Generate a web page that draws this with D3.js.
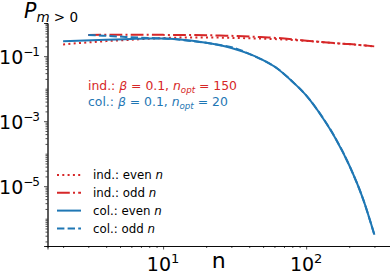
<!DOCTYPE html>
<html>
<head>
<meta charset="utf-8">
<script src="https://cdn.jsdelivr.net/npm/d3@7"></script>
<style>
  body { margin: 0; background: #fff; }
  svg { display: block; font-family: "DejaVu Sans", sans-serif; }
</style>
</head>
<body>
<svg id="chart" width="390" height="271"></svg>
<script>
// n values (even / odd system sizes)
const nEven = [2, 4, 6, 8, 10, 12, 16, 20, 26, 30, 40, 50, 60, 80, 100, 130, 160, 200, 250, 300];
const nOdd = [3, 5, 7, 9, 11, 15, 21, 25, 31, 41, 51, 61, 81, 101, 131, 161, 201, 251, 299];

// P_{m>0}, independent model (beta = 0.1, n_opt = 150)
const indEven = [0.23, 0.29, 0.32, 0.345, 0.36, 0.37, 0.375, 0.375, 0.37, 0.365, 0.355, 0.345, 0.335, 0.315, 0.295, 0.27, 0.25, 0.233, 0.215, 0.2];
const indOdd = [0.45, 0.455, 0.455, 0.455, 0.45, 0.45, 0.44, 0.43, 0.42, 0.40, 0.38, 0.365, 0.33, 0.30, 0.27, 0.25, 0.235, 0.215, 0.2];

// P_{m>0}, collective model (beta = 0.1, n_opt = 20)
const colEven = [0.29, 0.32, 0.34, 0.35, 0.35, 0.34, 0.30, 0.26, 0.21, 0.178, 0.117, 0.076, 0.048, 0.0166, 6.2e-3, 1.3e-3, 3.0e-4, 4.4e-5, 4.0e-6, 3.2e-7];
const colOdd = [0.45, 0.40, 0.37, 0.355, 0.345, 0.30, 0.25, 0.22, 0.183, 0.112, 0.072, 0.046, 0.0158, 5.9e-3, 1.26e-3, 2.9e-4, 4.2e-5, 3.8e-6, 3.3e-7];

const xMajor = [10, 100];
const yMajor = [1e-1, 1e-3, 1e-5];

const RED = "#d62728", BLUE = "#1f77b4";

const series = [
  { label: "ind.: even ", n: nEven, v: indEven, color: RED, dash: "2,3.3" },
  { label: "ind.: odd ", n: nOdd, v: indOdd, color: RED, dash: "12.8,3.2,2,3.2" },
  { label: "col.: even ", n: nEven, v: colEven, color: BLUE, dash: null },
  { label: "col.: odd ", n: nOdd, v: colOdd, color: BLUE, dash: "7.4,3.2" }
];

const svg = d3.select("#chart");
const plotL = 47.5, plotR = 390, plotT = 23, plotB = 246;

const x = d3.scaleLog().domain([Math.pow(10, 0.192), Math.pow(10, 2.586)]).range([plotL, plotR]);
const y = d3.scaleLog().domain([Math.pow(10, -6.84), Math.pow(10, 0.02)]).range([plotB, plotT]);

// minor tick positions
const xMinor = [];
for (let e = 0; e <= 2; e++) for (let k = 1; k <= 9; k++) {
  const v = k * Math.pow(10, e);
  if (v >= x.domain()[0] && v <= x.domain()[1] && !xMajor.includes(v)) xMinor.push(v);
}
const yMinor = [];
for (let e = -7; e <= 0; e++) for (let k = 1; k <= 9; k++) {
  const v = k * Math.pow(10, e);
  if (v >= y.domain()[0] && v <= y.domain()[1] && !yMajor.some(m => Math.abs(m - v) / m < 1e-9)) yMinor.push(v);
}

// curves
const line = d3.line()
  .x(d => x(d[0]))
  .y(d => y(d[1]))
  .curve(d3.curveMonotoneX);

series.forEach(s => {
  svg.append("path")
    .attr("d", line(s.n.map((n, i) => [n, s.v[i]])))
    .attr("fill", "none")
    .attr("stroke", s.color)
    .attr("stroke-width", 2)
    .attr("stroke-dasharray", s.dash);
});

// axes
const xAxis = svg.append("g").attr("transform", `translate(0,${plotB})`);
xAxis.call(d3.axisBottom(x).tickValues(xMinor).tickSize(2).tickFormat(""));
xAxis.append("g").call(d3.axisBottom(x).tickValues(xMajor).tickSize(3.5).tickFormat(""));
xAxis.selectAll(".domain").attr("stroke", "#000").attr("stroke-width", 0.8);
xAxis.selectAll(".tick line").attr("stroke-width", 0.7);

const yAxis = svg.append("g").attr("transform", `translate(${plotL},0)`);
yAxis.call(d3.axisLeft(y).tickValues(yMinor).tickSize(2).tickFormat(""));
yAxis.append("g").call(d3.axisLeft(y).tickValues(yMajor).tickSize(3.5).tickFormat(""));
yAxis.selectAll(".domain").attr("stroke", "#000").attr("stroke-width", 0.8);
yAxis.selectAll(".tick line").attr("stroke-width", 0.7);

// power-of-ten tick labels
xMajor.forEach(v => {
  const t = svg.append("text")
    .attr("x", x(v)).attr("y", 270.5)
    .attr("text-anchor", "middle")
    .attr("font-size", 19);
  t.append("tspan").text("10");
  t.append("tspan").attr("font-size", 13).attr("dy", -8).text(Math.round(Math.log10(v)));
});
yMajor.forEach(v => {
  const t = svg.append("text")
    .attr("x", 39).attr("y", y(v) + 7.5)
    .attr("text-anchor", "end")
    .attr("font-size", 19);
  t.append("tspan").text("10");
  t.append("tspan").attr("font-size", 12).attr("letter-spacing", -1).attr("dy", -8)
    .text("\u2212" + Math.abs(Math.round(Math.log10(v))));
});

// axis labels
svg.append("text")
  .attr("x", (plotL + plotR) / 2).attr("y", 268)
  .attr("text-anchor", "middle")
  .attr("font-size", 22)
  .text("n");

const yl = svg.append("text").attr("x", 24).attr("y", 18.3).attr("font-size", 20.5);
yl.append("tspan").attr("font-style", "italic").text("P");
yl.append("tspan").attr("font-size", 13.5).attr("dy", 3.2).attr("font-style", "italic").text("m");
yl.append("tspan").attr("font-size", 13.5).text(" > 0");

// parameter annotations
const notes = [
  { who: "ind.: ", nopt: "150", color: RED, y: 90 },
  { who: "col.: ", nopt: "20", color: BLUE, y: 106 }
];
notes.forEach(a => {
  const t = svg.append("text")
    .attr("x", 88).attr("y", a.y)
    .attr("font-size", 12.4)
    .attr("fill", a.color);
  t.append("tspan").text(a.who);
  t.append("tspan").attr("font-style", "italic").text("\u03b2");
  t.append("tspan").text(" = 0.1, ");
  t.append("tspan").attr("font-style", "italic").text("n");
  t.append("tspan").attr("font-style", "italic").attr("font-size", 8.7).attr("dy", 2.5).text("opt");
  t.append("tspan").attr("dy", -2.5).text(" = " + a.nopt);
});

// legend
const legend = svg.append("g");
series.forEach((s, i) => {
  const ly = 175 + i * 17.8;
  legend.append("line")
    .attr("x1", 57).attr("x2", 81)
    .attr("y1", ly).attr("y2", ly)
    .attr("stroke", s.color)
    .attr("stroke-width", 2)
    .attr("stroke-dasharray", s.dash);
  const t = legend.append("text")
    .attr("x", 93).attr("y", ly + 4.2)
    .attr("font-size", 11.8);
  t.append("tspan").text(s.label);
  t.append("tspan").attr("font-style", "italic").text("n");
});
</script>
</body>
</html>
